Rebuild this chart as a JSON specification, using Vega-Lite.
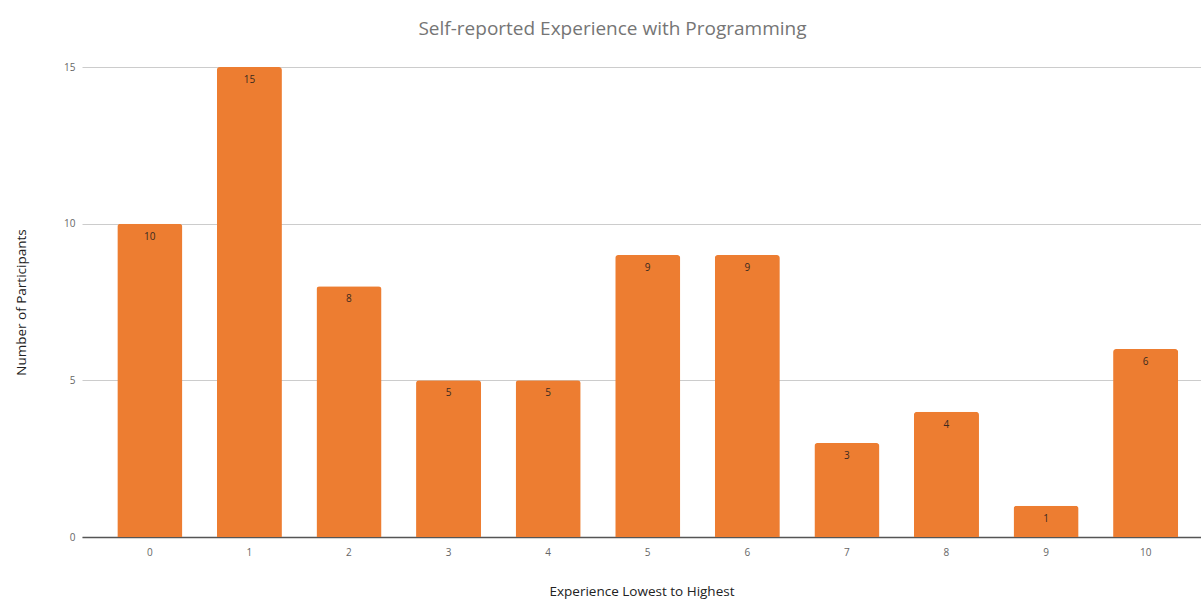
{
  "$schema": "https://vega.github.io/schema/vega-lite/v6.json",
  "autosize": "none",
  "width": 1119,
  "height": 470,
  "padding": {"left": 82, "top": 67, "right": 0, "bottom": 66},
  "background": "white",
  "title": {
    "text": "Self-reported Experience with Programming",
    "font": "Open Sans",
    "fontSize": 19,
    "fontWeight": "normal",
    "color": "#757575",
    "anchor": "middle",
    "baseline": "alphabetic",
    "offset": 8,
    "dx": -29
  },
  "data": {
    "values": [
      {"experience": "0", "count": 10},
      {"experience": "1", "count": 15},
      {"experience": "2", "count": 8},
      {"experience": "3", "count": 5},
      {"experience": "4", "count": 5},
      {"experience": "5", "count": 9},
      {"experience": "6", "count": 9},
      {"experience": "7", "count": 3},
      {"experience": "8", "count": 4},
      {"experience": "9", "count": 1},
      {"experience": "10", "count": 6}
    ]
  },
  "encoding": {
    "x": {
      "field": "experience",
      "type": "ordinal",
      "sort": null,
      "title": "Experience Lowest to Highest",
      "scale": {"paddingInner": 0.347, "paddingOuter": 0.292, "align": 0.607},
      "axis": {
        "labelAngle": 0,
        "labelFont": "Open Sans",
        "labelFontSize": 10,
        "labelColor": "#666666",
        "labelPadding": 10,
        "ticks": false,
        "domainColor": "#555555",
        "domainWidth": 1.5,
        "titleFont": "Open Sans",
        "titleFontSize": 13.5,
        "titleFontWeight": "normal",
        "titleColor": "#222222",
        "titlePadding": 27
      }
    },
    "y": {
      "field": "count",
      "type": "quantitative",
      "title": "Number of Participants",
      "scale": {"domain": [0, 15], "nice": false},
      "axis": {
        "values": [0, 5, 10, 15],
        "labelFont": "Open Sans",
        "labelFontSize": 10,
        "labelColor": "#666666",
        "labelPadding": 7,
        "ticks": false,
        "domain": false,
        "gridColor": "#cccccc",
        "titleFont": "Open Sans",
        "titleFontSize": 13.5,
        "titleFontWeight": "normal",
        "titleColor": "#222222",
        "titlePadding": 35
      }
    }
  },
  "layer": [
    {
      "mark": {"type": "bar", "color": "#ED7D31", "cornerRadiusTopLeft": 3, "cornerRadiusTopRight": 3}
    },
    {
      "mark": {"type": "text", "baseline": "middle", "dy": 13, "font": "Open Sans", "fontSize": 10, "color": "#3a2a20"},
      "encoding": {"text": {"field": "count", "type": "quantitative"}}
    }
  ],
  "config": {"view": {"stroke": null}}
}
